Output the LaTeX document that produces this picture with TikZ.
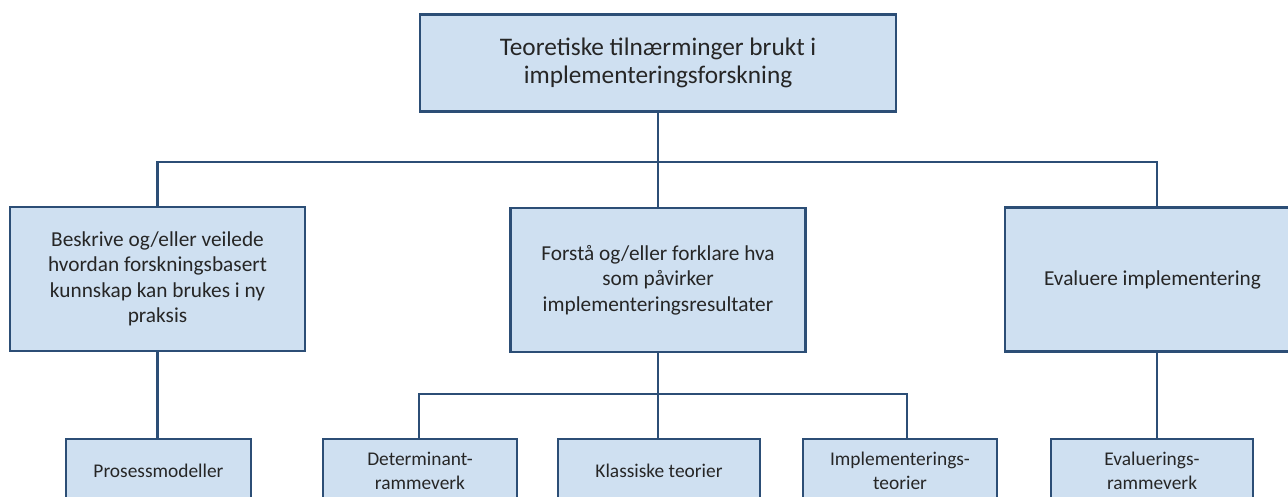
\documentclass[tikz,border=0pt]{standalone}
\usepackage{fontspec}
\setmainfont{Carlito}
\definecolor{boxfill}{RGB}{207,224,241}
\definecolor{boxline}{RGB}{44,78,118}
\begin{document}
\begin{tikzpicture}[x=1pt,y=-1pt,
  box/.style={draw=boxline, fill=boxfill, line width=2.8pt, rectangle,
    inner sep=0pt, align=center, text=black!85},
  topbox/.style={box, minimum width=476pt, minimum height=97pt,
    font=\fontsize{25.3}{28.5}\selectfont},
  midbox/.style={box, minimum width=295pt, minimum height=144pt,
    font=\fontsize{21.3}{25.5}\selectfont},
  lowbox/.style={box, minimum height=64pt,
    font=\fontsize{19.4}{23.5}\selectfont},
  link/.style={draw=boxline, line width=2.4pt}]
\clip (0,0) rectangle (1288,497);

% top level
\node[topbox] (top) at (658,63) {Teoretiske tilnærminger brukt i\\implementeringsforskning};

% second level
\node[midbox] (L) at (157.5,279) {Beskrive og/eller veilede\\hvordan forskningsbasert\\kunnskap kan brukes i ny\\praksis};
\node[midbox] (M) at (658,280) {Forstå og/eller forklare hva\\som påvirker\\implementeringsresultater};
\node[midbox, minimum width=304pt] (R) at (1157,279.5) {\hspace*{-9pt}Evaluere implementering};

% third level
\node[lowbox, minimum width=185pt] (B1) at (158.5,471) {Prosessmodeller};
\node[lowbox, minimum width=194pt] (B2) at (420,471) {Determinant-\\rammeverk};
\node[lowbox, minimum width=202pt] (B3) at (659,471) {Klassiske teorier};
\node[lowbox, minimum width=194pt] (B4) at (900,471) {Implementerings-\\teorier};
\node[lowbox, minimum width=202pt] (B5) at (1152,471) {Evaluerings-\\rammeverk};

\coordinate (bus) at (0,162);
\coordinate (subbus) at (0,394);

% connectors, first tier
\draw[link] (top.south) -- (top.south |- M.north);
\draw[link] (L.north) -- (L.north |- bus) -- (R.north |- bus) -- (R.north);

% connectors, second tier
\draw[link] (L.south) -- (L.south |- B1.north);
\draw[link] (M.south) -- (M.south |- B3.north);
\draw[link] ([xshift=-1pt]B2.north) -- ([xshift=-1pt]B2.north |- subbus) -- ([xshift=7pt]B4.north |- subbus) -- ([xshift=7pt]B4.north);
\draw[link] (R.south) -- (R.south |- B5.north);
\end{tikzpicture}
\end{document}
